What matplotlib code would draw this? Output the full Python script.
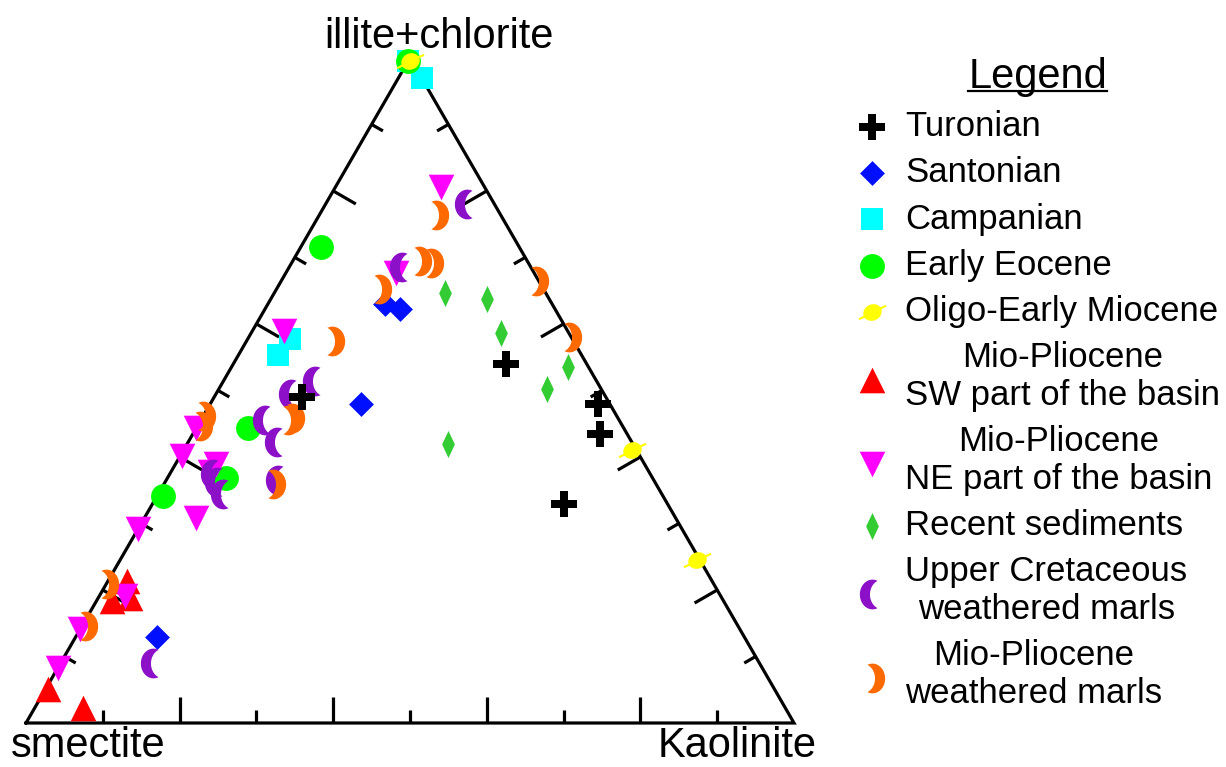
import numpy as np
import matplotlib.pyplot as plt
from matplotlib.path import Path
from matplotlib.lines import Line2D
from matplotlib.collections import LineCollection

plt.rcParams['font.family'] = ['Liberation Sans', 'DejaVu Sans']

# clay fractions in % : illite+chlorite, kaolinite (smectite = rest)
turonian_ill = [54, 49, 48, 43.5, 33]
turonian_kao = [35.5, 11.5, 50.5, 53, 53.5]
santonian_ill = [63, 62.3, 48, 13]
santonian_kao = [15.2, 17.5, 19.6, 10.6]
campanian_ill = [99.5, 97, 57.7, 55.4]
campanian_kao = [0, 3, 5.5, 5.1]
eocene_ill = [99.5, 71.6, 44.3, 36.8, 34.1]
eocene_kao = [0, 2.6, 6.7, 7.7, 0.8]
oligo_ill = [99.5, 41, 24.5]
oligo_kao = [0.2, 58.4, 75.1]
mio_sw_ill = [21.3, 18.3, 18.8, 5.1, 2.3]
mio_sw_kao = [2.5, 2.0, 4.1, 0.3, 6.3]
mio_ne_ill = [80.6, 67.6, 58.9, 44.3, 40.1, 39.0, 37.8, 30.8, 29.1, 19.1, 14.1, 8.3]
mio_ne_kao = [13.8, 14.4, 4.2, 0, 0.3, 5.3, 5.0, 6.7, 0, 3.3, 0, 0]
recent_ill = [64.6, 63.7, 58.6, 53.6, 50.2, 42.0]
recent_kao = [22.3, 28.2, 32.6, 43.8, 42.8, 33.9]
ucret_ill = [78.1, 68.6, 51.4, 49.5, 45.6, 42.3, 37.5, 36.3, 34.4, 36.6, 9.0]
ucret_kao = [18.4, 14.7, 11.9, 9.8, 8.3, 11.5, 5.6, 6.7, 8.4, 14.5, 12.0]
miowm_ill = [76.4, 69.4, 69.1, 65.2, 57.4, 66.4, 58.1, 46.1, 44.6, 45.8, 45.6, 36.0, 20.9, 14.6]
miowm_kao = [15.2, 16.5, 18.2, 13.4, 11.2, 33.2, 41.7, 0, 0.3, 11.8, 11.3, 14.1, 0, 0.4]

labels = ['Turonian', 'Santonian', 'Campanian', 'Early Eocene', 'Oligo-Early Miocene',
          'Mio-Pliocene\nSW part of the basin', 'Mio-Pliocene\nNE part of the basin',
          'Recent sediments', 'Upper Cretaceous\nweathered marls',
          'Mio-Pliocene\nweathered marls']

h = np.sqrt(3) / 2


def tern(ill, kao):
    ill = np.array(ill) / 100.0
    kao = np.array(kao) / 100.0
    return kao + ill / 2, ill * h


def crescent(flip=False):
    d = 0.8
    yi = np.sqrt(1 - (d / 2) ** 2)
    a_out = np.arctan2(yi, d / 2)
    t1 = np.linspace(a_out, 2 * np.pi - a_out, 30)
    outer = np.c_[np.cos(t1), np.sin(t1)]
    a_in = np.arctan2(yi, -d / 2)
    t2 = np.linspace(2 * np.pi - a_in, a_in, 30)
    inner = np.c_[d + np.cos(t2), np.sin(t2)]
    v = np.vstack([outer, inner, outer[:1]])
    v[:, 0] *= 0.85
    if flip:
        v[:, 0] *= -1
    return Path(v, closed=True)


def planet():
    t = np.linspace(0, 2 * np.pi, 30)
    ell = np.c_[0.62 * np.cos(t), 0.52 * np.sin(t)]
    rot = np.deg2rad(25)
    R = np.array([[np.cos(rot), -np.sin(rot)], [np.sin(rot), np.cos(rot)]])
    ell = ell @ R.T
    v = np.vstack([ell, [[-1, -0.5], [1, 0.5]]])
    codes = [Path.MOVETO] + [Path.LINETO] * 28 + [Path.CLOSEPOLY] + [Path.MOVETO, Path.LINETO]
    return Path(v, codes)


thin_diamond = Path([(0, 1), (0.47, 0), (0, -1), (-0.47, 0), (0, 1)], closed=True)

fig = plt.figure(figsize=(12.26, 7.67), dpi=100)
ax = fig.add_axes([0, 0, 1, 1])
ax.set_xlim(-26 / 768, 1200 / 768)
ax.set_ylim(-44 / 768, 723 / 768)
ax.axis('off')

# triangle frame
ax.plot([0, 1, 0.5, 0], [0, 0, h, 0], color='black', lw=2.3, zorder=1,
        solid_joinstyle='miter')

# ticks every 10 %, longer at every 20 %
segs = []
corners = np.array([[0, 0], [1, 0], [0.5, h]])
for a, b, nrm in [(0, 1, (0, 1)), (1, 2, (-h, -0.5)), (2, 0, (h, -0.5))]:
    for i in range(1, 10):
        p = corners[a] + (corners[b] - corners[a]) * i / 10
        L = 0.034 if i % 2 == 0 else 0.017
        segs.append([p, p + L * np.array(nrm)])
ax.add_collection(LineCollection(segs, colors='black', linewidths=2.3, zorder=1))

series = [
    (turonian_ill, turonian_kao, 'P', 340, 'black', 12),
    (santonian_ill, santonian_kao, 'D', 160, '#0010ff', 3),
    (campanian_ill, campanian_kao, 's', 260, '#00ffff', 4),
    (eocene_ill, eocene_kao, 'o', 320, '#00ff00', 5),
    (oligo_ill, oligo_kao, planet(), 380, '#ffff00', 6),
    (mio_sw_ill, mio_sw_kao, '^', 340, '#ff0000', 7),
    (mio_ne_ill, mio_ne_kao, 'v', 340, '#ff00ff', 8),
    (recent_ill, recent_kao, thin_diamond, 380, '#33cc33', 9),
    (ucret_ill, ucret_kao, crescent(), 460, '#8b10c8', 10),
    (miowm_ill, miowm_kao, crescent(flip=True), 460, '#ff6a00', 11),
]

handles = []
for ill, kao, mk, s, col, z in series:
    x, y = tern(ill, kao)
    lw = 1.5 if col == '#ffff00' else 0
    sc = ax.scatter(x, y, marker=mk, s=s, c=col, edgecolors=col, linewidths=lw, zorder=z)
    handles.append(sc)

ax.text((439 - 26) / 768, (723 - 48) / 768, 'illite+chlorite', fontsize=30,
        ha='center', va='baseline')
ax.text((88 - 26) / 768, (723 - 757) / 768, 'smectite', fontsize=30,
        ha='center', va='baseline')
ax.text((737 - 26) / 768, (723 - 757) / 768, 'Kaolinite', fontsize=30,
        ha='center', va='baseline')

leg = ax.legend(handles, labels, loc='upper left', bbox_to_anchor=(855 / 1226, 1 - 57 / 767),
                bbox_transform=fig.transFigure, frameon=False, fontsize=25,
                title='Legend', title_fontsize=30, borderaxespad=0, borderpad=0,
                handlelength=1.0, handletextpad=0.45, labelspacing=0.38, scatterpoints=1)
for t in leg.get_texts():
    t.set_multialignment('center')
    t.set_linespacing(1.18)

# underline the legend title
fig.canvas.draw()
bb = leg.get_title().get_window_extent()
W, H = fig.bbox.width, fig.bbox.height
fig.add_artist(Line2D([bb.x0 / W, bb.x1 / W], [(bb.y0 + 6) / H] * 2,
                      transform=fig.transFigure, color='black', lw=1.6))

fig.savefig('out.png', dpi=100)
